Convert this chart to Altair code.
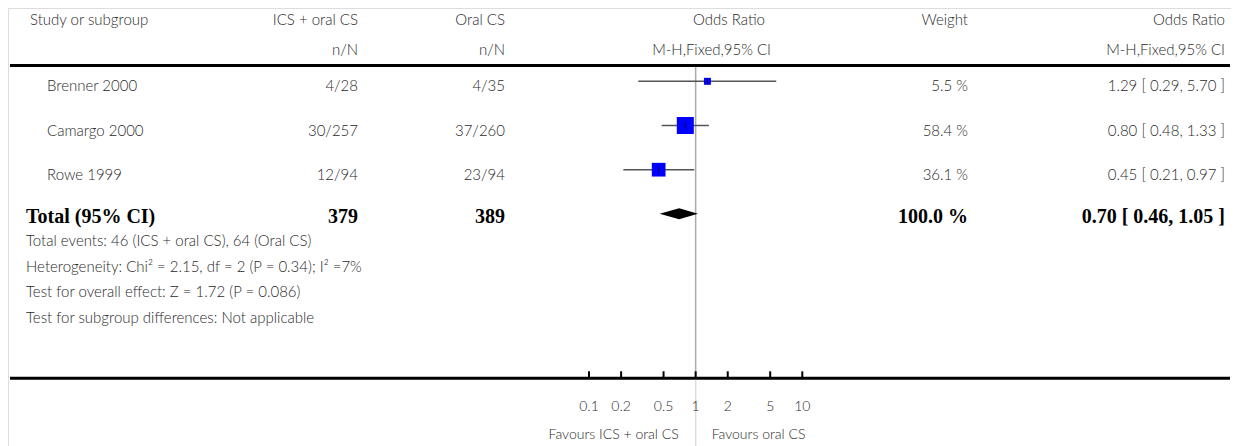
import altair as alt
import pandas as pd

# ---------------- data ----------------
studies = ["Brenner 2000", "Camargo 2000", "Rowe 1999"]
ics_nN = ["4/28", "30/257", "12/94"]
oral_nN = ["4/35", "37/260", "23/94"]
or_est = [1.29, 0.80, 0.45]
ci_low = [0.29, 0.48, 0.21]
ci_high = [5.70, 1.33, 0.97]
weights = [5.5, 58.4, 36.1]

total_label = "Total (95% CI)"
total_ics = 379
total_oral = 389
total_weight = 100.0
total_or = 0.70
total_low = 0.46
total_high = 1.05

footnotes = [
    "Total events: 46 (ICS + oral CS), 64 (Oral CS)",
    "Heterogeneity: Chi\u00b2 = 2.15, df = 2 (P = 0.34); I\u00b2 =7%",
    "Test for overall effect: Z = 1.72 (P = 0.086)",
    "Test for subgroup differences: Not applicable",
]

header1 = ["Study or subgroup", "ICS + oral CS", "Oral CS", "Odds Ratio", "Weight", "Odds Ratio"]
header2 = ["n/N", "n/N", "M-H,Fixed,95% CI", "M-H,Fixed,95% CI"]

tick_values = [0.1, 0.2, 0.5, 1, 2, 5, 10]
tick_labels = ["0.1", "0.2", "0.5", "1", "2", "5", "10"]
favours_left = "Favours ICS + oral CS"
favours_right = "Favours oral CS"

# ---------------- layout (page pixels, minus 8px margin) ----------------
M = 8
def px(v):
    return v - M

W, H = 1239 - 2 * M, 446 - M
FONT = "Lato"
FW = 300
FS = 15
TXT = "#2a2a2a"

X_LEFT = px(10)
X_RIGHT = px(1230)
COL_STUDY = px(30)
COL_STUDY_ROW = px(47)
COL_TOTAL = px(26)
COL_ICS = px(358)
COL_ORAL = px(505)
COL_OR_HEAD = px(765)
COL_MH_HEAD = px(771)
COL_WEIGHT = px(968)
COL_OR = px(1225)

Y_H1 = px(20)
Y_H2 = px(50)
Y_TOPLINE = px(65.5)
Y_ROW_FIRST = px(81.3)
Y_ROW_LAST = px(169.7)
Y_TOTAL = px(213.7)
Y_FOOT = [px(241), px(266.5), px(292), px(318)]
Y_AXIS = px(378.3)
Y_TICKLAB = px(407)
Y_FAV = px(435)

X_SCALE = alt.Scale(type="log", domain=[0.1, 10], range=[px(589), px(802.3)])


def row_scale():
    return alt.Scale(type="point", domain=studies, range=[Y_ROW_FIRST, Y_ROW_LAST], padding=0)


one = pd.DataFrame({"k": [0]})

df = pd.DataFrame({
    "study": studies,
    "ics": ics_nN,
    "oral": oral_nN,
    "or": or_est,
    "lo": ci_low,
    "hi": ci_high,
    "weight": weights,
})
df["wtxt"] = [f"{w:.1f} %" for w in weights]
df["ortxt"] = [f"{o:.2f} [ {l:.2f}, {h:.2f} ]" for o, l, h in zip(or_est, ci_low, ci_high)]

layers = []


def fixed_text(text, x, y, align="left", font=FONT, size=FS, weight=FW, color=TXT):
    return alt.Chart(one).mark_text(
        align=align, baseline="middle", font=font, fontSize=size, fontWeight=weight, color=color
    ).encode(x=alt.value(x), y=alt.value(y), text=alt.value(text))


# headers
h1_x = [COL_STUDY, COL_ICS, COL_ORAL, COL_OR_HEAD, COL_WEIGHT, COL_OR]
h1_al = ["left", "right", "right", "right", "right", "right"]
for t, x, a in zip(header1, h1_x, h1_al):
    layers.append(fixed_text(t, x, Y_H1, a))
for t, x in zip(header2, [COL_ICS, COL_ORAL, COL_MH_HEAD, COL_OR]):
    layers.append(fixed_text(t, x, Y_H2, "right"))

# rules: top thick line, bottom axis line
layers.append(alt.Chart(one).mark_rule(color="black", strokeWidth=3).encode(
    x=alt.value(X_LEFT), x2=alt.value(X_RIGHT), y=alt.value(Y_TOPLINE)))
layers.append(alt.Chart(one).mark_rule(color="black", strokeWidth=3).encode(
    x=alt.value(X_LEFT), x2=alt.value(X_RIGHT), y=alt.value(Y_AXIS)))

# line of no effect
ref = pd.DataFrame({"x": [1]})
layers.append(alt.Chart(ref).mark_rule(color="#aaaaaa", strokeWidth=1.5).encode(
    x=alt.X("x:Q", scale=X_SCALE, axis=None), y=alt.value(px(67)), y2=alt.value(Y_AXIS - 1.5)))
layers.append(alt.Chart(ref).mark_rule(color="#dddddd", strokeWidth=1.5).encode(
    x=alt.X("x:Q", scale=X_SCALE, axis=None), y=alt.value(Y_AXIS + 1.5), y2=alt.value(H)))

# study rows text
base = alt.Chart(df)


def col_text(field, x, align):
    return base.mark_text(align=align, baseline="middle", font=FONT, fontSize=FS, fontWeight=FW,
                          color=TXT, dy=5).encode(
        x=alt.value(x), y=alt.Y("study:N", scale=row_scale(), axis=None), text=f"{field}:N")


layers.append(col_text("study", COL_STUDY_ROW, "left"))
layers.append(col_text("ics", COL_ICS, "right"))
layers.append(col_text("oral", COL_ORAL, "right"))
layers.append(col_text("wtxt", COL_WEIGHT, "right"))
layers.append(col_text("ortxt", COL_OR, "right"))

# CI lines
layers.append(base.mark_rule(color="#555555", strokeWidth=1.5).encode(
    x=alt.X("lo:Q", scale=X_SCALE, axis=None), x2="hi:Q",
    y=alt.Y("study:N", scale=row_scale(), axis=None)))
# weighted squares
layers.append(base.mark_point(shape="square", filled=True, color="#0000ff", opacity=1).encode(
    x=alt.X("or:Q", scale=X_SCALE, axis=None),
    y=alt.Y("study:N", scale=row_scale(), axis=None),
    size=alt.Size("weight:Q", scale=alt.Scale(domain=[5.5, 58.4], range=[49, 289]), legend=None)))
# center tick
layers.append(base.mark_tick(color="black", thickness=1, size=6, orient="vertical").encode(
    x=alt.X("or:Q", scale=X_SCALE, axis=None),
    y=alt.Y("study:N", scale=row_scale(), axis=None)))

# total diamond
dia = pd.DataFrame({"x": [total_low, total_or, total_high], "up": [0, 1, 0], "dn": [0, -1, 0]})
layers.append(alt.Chart(dia).mark_area(color="black", opacity=1).encode(
    x=alt.X("x:Q", scale=X_SCALE, axis=None),
    y=alt.Y("up:Q", scale=alt.Scale(domain=[-1, 1], range=[Y_TOTAL + 5.5, Y_TOTAL - 5.5]), axis=None),
    y2="dn:Q"))

# total row text
SERIF = "Liberation Serif"
TS = 20
TY = Y_TOTAL + 3
layers.append(fixed_text(total_label, COL_TOTAL, TY, "left", SERIF, TS, "bold", "black"))
layers.append(fixed_text(str(total_ics), COL_ICS, TY, "right", SERIF, TS, "bold", "black"))
layers.append(fixed_text(str(total_oral), COL_ORAL, TY, "right", SERIF, TS, "bold", "black"))
layers.append(fixed_text(f"{total_weight:.1f} %", COL_WEIGHT, TY, "right", SERIF, TS, "bold", "black"))
layers.append(fixed_text(f"{total_or:.2f} [ {total_low:.2f}, {total_high:.2f} ]", COL_OR, TY,
                         "right", SERIF, TS, "bold", "black"))

# footnotes
for t, y in zip(footnotes, Y_FOOT):
    layers.append(fixed_text(t, COL_TOTAL, y, "left"))

# axis ticks and labels
tk = pd.DataFrame({"v": tick_values, "lab": tick_labels})
layers.append(alt.Chart(tk).mark_rule(color="black", strokeWidth=2).encode(
    x=alt.X("v:Q", scale=X_SCALE, axis=None), y=alt.value(Y_AXIS - 7), y2=alt.value(Y_AXIS)))
layers.append(alt.Chart(tk).mark_text(font=FONT, fontSize=14, fontWeight=FW, color=TXT,
                                      baseline="middle").encode(
    x=alt.X("v:Q", scale=X_SCALE, axis=None), y=alt.value(Y_TICKLAB), text="lab:N"))

fav = pd.DataFrame({"x": [1]})
layers.append(alt.Chart(fav).mark_text(font=FONT, fontSize=14, fontWeight=FW, color=TXT, baseline="middle",
                                       align="right", dx=-17).encode(
    x=alt.X("x:Q", scale=X_SCALE, axis=None), y=alt.value(Y_FAV), text=alt.value(favours_left)))
layers.append(alt.Chart(fav).mark_text(font=FONT, fontSize=14, fontWeight=FW, color=TXT, baseline="middle",
                                       align="left", dx=16).encode(
    x=alt.X("x:Q", scale=X_SCALE, axis=None), y=alt.value(Y_FAV), text=alt.value(favours_right)))

chart = alt.layer(*layers).resolve_scale(x="independent", y="independent", size="independent").properties(
    width=W, height=H, autosize=alt.AutoSizeParams(type="none"), padding=0
).configure_view(stroke=None).configure(background="white")

chart.save("out.html", embed_options={"renderer": "svg", "actions": False})
